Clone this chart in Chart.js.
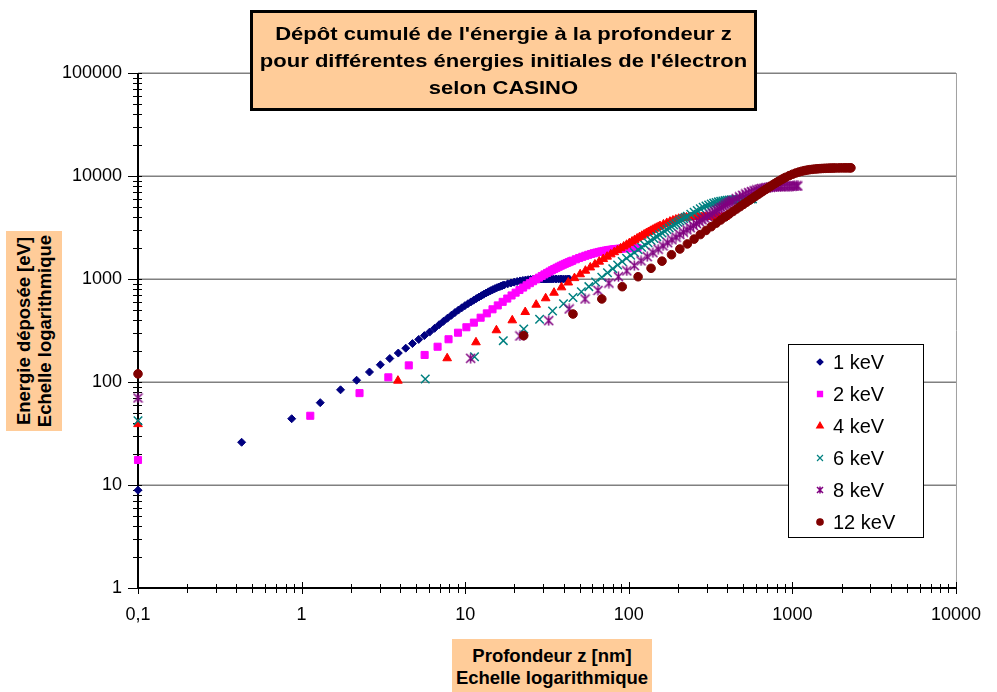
<!DOCTYPE html>
<html>
<head>
<meta charset="utf-8">
<script src="https://cdn.jsdelivr.net/npm/chart.js@4/dist/chart.umd.min.js"></script>
<style>
  html, body { margin: 0; padding: 0; background: #fff; }
  #wrap { position: relative; width: 997px; height: 692px; overflow: hidden;
          font-family: Arial, "Liberation Sans", sans-serif; }
  #chart { position: absolute; left: 0; top: 0; }
  .peach { position: absolute; background: #FFCC99; color: #000; font-weight: bold; }
  #title { left: 250px; top: 10px; width: 507px; height: 101px; border: 3px solid #000;
           box-sizing: border-box; font-size: 18.5px; }
  #title div { position: absolute; left: 0; right: 0; text-align: center; line-height: 27px;
               white-space: nowrap; transform: scaleX(1.19); }
  #ylab { left: 6px; top: 231px; width: 56px; height: 200px; }
  #ylab div { position: absolute; left: -72px; top: 72px; width: 200px; height: 56px;
              box-sizing: border-box; padding-top: 6.5px; transform: rotate(-90deg);
              text-align: center; font-size: 18.5px; line-height: 21.5px; white-space: nowrap; }
  #xlab { left: 452px; top: 639px; width: 200px; height: 53px; box-sizing: border-box;
          padding-top: 6px; text-align: center; font-size: 18.5px; line-height: 22px; white-space: nowrap; }
</style>
</head>
<body>
<div id="wrap">
  <canvas id="chart" width="997" height="692"></canvas>
  <div id="title" class="peach">
    <div style="top:6.5px">Dépôt cumulé de l'énergie à la profondeur z</div>
    <div style="top:33.5px">pour différentes énergies initiales de l'électron</div>
    <div style="top:60.5px">selon CASINO</div>
  </div>
  <div id="ylab" class="peach"><div>Energie déposée [eV]<br>Echelle logarithmique</div></div>
  <div id="xlab" class="peach">Profondeur z [nm]<br>Echelle logarithmique</div>
</div>
<script>
// --- Data (depth in nm, deposited energy in eV) ---
// depth 0 is drawn on the 0,1 axis line
const depth1keV = [0.1, 0.43, 0.87, 1.30, 1.73, 2.17, 2.60, 3.03, 3.46, 3.90, 4.33, 4.76, 5.20, 5.63, 6.06, 6.50, 6.93, 7.36, 7.79, 8.23, 8.66, 9.09, 9.53, 9.96, 10.39, 10.83, 11.26, 11.69, 12.12, 12.56, 12.99, 13.42, 13.86, 14.29, 14.72, 15.16, 15.59, 16.02, 16.45, 16.89, 17.32,
  18.19, 19.05, 19.92, 20.78, 21.65, 22.52, 23.38, 24.25, 25.11, 25.98, 26.85, 27.71, 28.58, 29.44, 30.31, 31.18, 32.04, 32.91, 33.77, 34.64,
  35.94, 37.24, 38.54, 39.84, 41.14, 42.43, 43.30];
const energy1keV = [8.9, 26, 44, 63, 84, 104, 125, 147, 169, 191, 213, 236, 259, 282, 305, 332, 360, 388, 416, 444, 472, 499, 525, 551, 575, 599, 622, 645, 667, 689, 710, 731, 751, 770, 788, 805, 821, 836, 850, 863, 875,
  897, 916, 932, 946, 958, 968, 977, 984, 990, 994, 997, 999, 1000, 1000, 1000, 1000, 1000, 1000, 1000, 1000,
  1000, 1000, 1000, 1000, 1000, 1000, 1000];

const depth2keV = [0.1, 1.13, 2.26, 3.39, 4.52, 5.65, 6.78, 7.91, 9.04, 10.17, 11.30, 12.43, 13.56, 14.69, 15.82, 16.95, 18.08, 19.21, 20.34, 21.47, 22.60, 23.73, 24.86, 25.99, 27.12, 28.25, 29.38, 30.51, 31.64, 32.77, 33.90, 35.03, 36.16, 37.29, 38.42, 39.55, 40.68, 41.81, 42.94, 44.07, 45.20,
  47.46, 49.72, 51.98, 54.24, 56.50, 58.76, 61.02, 63.28, 65.54, 67.80, 70.06, 72.32, 74.58, 76.84, 79.10, 81.36, 83.62, 85.88, 88.14, 90.40,
  93.79, 97.18, 100.57, 103.96, 107.35, 110.74, 113.00];
const energy2keV = [17.5, 47, 78, 111, 145, 183, 220, 260, 301, 340, 377, 421, 464, 508, 554, 600, 646, 692, 737, 782, 826, 869, 911, 952, 992, 1031, 1070, 1108, 1145, 1181, 1216, 1250, 1283, 1315, 1346, 1375, 1403, 1430, 1456, 1481, 1506,
  1554, 1599, 1641, 1680, 1716, 1749, 1779, 1806, 1830, 1852, 1872, 1890, 1906, 1920, 1933, 1944, 1954, 1962, 1969, 1975,
  1982, 1988, 1993, 1996, 1998, 2000, 2000];

const depth4keV = [0.1, 3.88, 7.76, 11.64, 15.52, 19.40, 23.28, 27.16, 31.04, 34.92, 38.80, 42.68, 46.56, 50.44, 54.32, 58.20, 62.08, 65.96, 69.84, 73.72, 77.60, 81.48, 85.36, 89.24, 93.12, 97.00, 100.88, 104.76, 108.64, 112.52, 116.40, 120.28, 124.16, 128.04, 131.92, 135.80, 139.68, 143.56, 147.44, 151.32, 155.20,
  162.96, 170.72, 178.48, 186.24, 194.00, 201.76, 209.52, 217.28, 225.04, 232.80, 240.56, 248.32, 256.08, 263.84, 271.60, 279.36, 287.12, 294.88, 302.64, 310.40,
  322.04, 333.68, 345.32, 356.96, 368.60, 380.24, 388.00];
const energy4keV = [39, 103, 170, 243, 318, 397, 478, 563, 650, 736, 830, 925, 1020, 1112, 1204, 1295, 1385, 1474, 1562, 1649, 1735, 1820, 1904, 1987, 2069, 2150, 2232, 2313, 2394, 2474, 2553, 2630, 2708, 2785, 2860, 2933, 3004, 3073, 3140, 3205, 3268,
  3390, 3503, 3607, 3700, 3780, 3846, 3897, 3934, 3960, 3977, 3988, 3995, 3999, 4000, 4000, 4000, 4000, 4000, 4000, 4000,
  4000, 4000, 4000, 4000, 4000, 4000, 4000];

const depth6keV = [0.1, 5.7, 11.4, 17.1, 22.8, 28.5, 34.2, 39.9, 45.6, 51.3, 57.0, 62.7, 68.4, 74.1, 79.8, 85.5, 91.2, 96.9, 102.6, 108.3, 114.0, 119.7, 125.4, 131.1, 136.8, 142.5, 148.2, 153.9, 159.6, 165.3, 171.0, 176.7, 182.4, 188.1, 193.8, 199.5, 205.2, 210.9, 216.6, 222.3, 228.0,
  239.4, 250.8, 262.2, 273.6, 285.0, 296.4, 307.8, 319.2, 330.6, 342.0, 353.4, 364.8, 376.2, 387.6, 399.0, 410.4, 421.8, 433.2, 444.6, 456.0,
  473.1, 490.2, 507.3, 524.4, 541.5, 558.6, 570.0];
const energy6keV = [42, 107, 176, 252, 327, 406, 489, 575, 662, 752, 843, 936, 1040, 1150, 1260, 1370, 1480, 1590, 1700, 1810, 1920, 2030, 2140, 2250, 2360, 2470, 2580, 2690, 2800, 2910, 3020, 3128, 3236, 3343, 3449, 3554, 3658, 3761, 3863, 3964, 4064,
  4260, 4450, 4632, 4804, 4964, 5110, 5240, 5354, 5452, 5536, 5608, 5670, 5722, 5766, 5804, 5836, 5863, 5886, 5905, 5921,
  5941, 5957, 5970, 5980, 5988, 5994, 5997];

const depth8keV = [0.1, 10.8, 21.6, 32.4, 43.2, 54.0, 64.8, 75.6, 86.4, 97.2, 108.0, 118.8, 129.6, 140.4, 151.2, 162.0, 172.8, 183.6, 194.4, 205.2, 216.0, 226.8, 237.6, 248.4, 259.2, 270.0, 280.8, 291.6, 302.4, 313.2, 324.0, 334.8, 345.6, 356.4, 367.2, 378.0, 388.8, 399.6, 410.4, 421.2, 432.0,
  453.6, 475.2, 496.8, 518.4, 540.0, 561.6, 583.2, 604.8, 626.4, 648.0, 669.6, 691.2, 712.8, 734.4, 756.0, 777.6, 799.2, 820.8, 842.4, 864.0,
  896.4, 928.8, 961.2, 993.6, 1026.0, 1058.4, 1080.0];
const energy8keV = [70, 170, 280, 394, 512, 640, 775, 912, 1052, 1200, 1350, 1500, 1648, 1801, 1950, 2098, 2251, 2402, 2549, 2701, 2852, 3000, 3148, 3302, 3451, 3598, 3752, 3901, 4048, 4203, 4351, 4498, 4650, 4797, 4945, 5090, 5233, 5374, 5512, 5647, 5779,
  6033, 6272, 6494, 6697, 6880, 7042, 7182, 7320, 7440, 7540, 7620, 7690, 7750, 7800, 7840, 7870, 7895, 7915, 7932, 7946,
  7962, 7975, 7985, 7992, 7997, 8000, 8000];

const depth12keV = [0.1, 22.8, 45.6, 68.4, 91.2, 114.0, 136.8, 159.6, 182.4, 205.2, 228.0, 250.8, 273.6, 296.4, 319.2, 342.0, 364.8, 387.6, 410.4, 433.2, 456.0, 478.8, 501.6, 524.4, 547.2, 570.0, 592.8, 615.6, 638.4, 661.2, 684.0, 706.8, 729.6, 752.4, 775.2, 798.0, 820.8, 843.6, 866.4, 889.2, 912.0,
  957.6, 1003.2, 1048.8, 1094.4, 1140.0, 1185.6, 1231.2, 1276.8, 1322.4, 1368.0, 1413.6, 1459.2, 1504.8, 1550.4, 1596.0, 1641.6, 1687.2, 1732.8, 1778.4, 1824.0,
  1892.4, 1960.8, 2029.2, 2097.6, 2166.0, 2234.4, 2280.0];
const energy12keV = [120, 282, 457, 640, 842, 1052, 1270, 1490, 1720, 1955, 2190, 2440, 2700, 2960, 3220, 3480, 3740, 4000, 4260, 4520, 4780, 5040, 5300, 5560, 5820, 6080, 6340, 6600, 6860, 7120, 7378, 7634, 7888, 8138, 8384, 8625, 8860, 9088, 9308, 9519, 9720,
  10090, 10415, 10695, 10930, 11125, 11285, 11415, 11520, 11605, 11675, 11732, 11780, 11820, 11853, 11880, 11903, 11922, 11938, 11951, 11962,
  11975, 11985, 11992, 11997, 12000, 12000, 12000];

const seriesLabels = ['1 keV', '2 keV', '4 keV', '6 keV', '8 keV', '12 keV'];
const xDecades = [0.1, 1, 10, 100, 1000, 10000];
const yDecades = [1, 10, 100, 1000, 10000, 100000];

// --- Styles ---
const FONT = 'Arial, "Liberation Sans", sans-serif';
Chart.defaults.font.family = FONT;
Chart.defaults.color = '#000';

// Excel-like "star" marker: an X crossed by a vertical bar
const makeStar = (size, color) => {
  const c = document.createElement('canvas');
  c.width = size; c.height = size;
  const g = c.getContext('2d');
  const m = size / 2, r = size / 2 - 1;
  g.strokeStyle = color; g.lineWidth = 1.5;
  g.beginPath();
  g.moveTo(m - r, m - r); g.lineTo(m + r, m + r);
  g.moveTo(m + r, m - r); g.lineTo(m - r, m + r);
  g.moveTo(m, m - r - 0.5); g.lineTo(m, m + r + 0.5);
  g.stroke();
  return c;
};

const styles = [
  { color: '#000080', pointStyle: 'rectRot', radius: 4, bw: 1 },
  { color: '#FF00FF', pointStyle: 'rect', radius: 5, bw: 1 },
  { color: '#FF0000', pointStyle: 'triangle', radius: 5, bw: 1 },
  { color: '#008080', pointStyle: 'crossRot', radius: 6, bw: 1.5 },
  { color: '#800080', pointStyle: makeStar(11, '#800080'), radius: 5.5, bw: 1 },
  { color: '#800000', pointStyle: 'circle', radius: 4.3, bw: 1 }
];
const legendMarkers = [
  { pointStyle: 'rectRot', radius: 3 },
  { pointStyle: 'rect', radius: 3.6 },
  { pointStyle: 'triangle', radius: 3.8 },
  { pointStyle: 'crossRot', radius: 4.2 },
  { pointStyle: makeStar(8, '#800080'), radius: 4 },
  { pointStyle: 'circle', radius: 3.2 }
];

const depths = [depth1keV, depth2keV, depth4keV, depth6keV, depth8keV, depth12keV];
const energies = [energy1keV, energy2keV, energy4keV, energy6keV, energy8keV, energy12keV];

const datasets = seriesLabels.map((label, i) => ({
  label,
  data: depths[i].map((x, j) => ({ x, y: energies[i][j] })),
  pointStyle: styles[i].pointStyle,
  pointRadius: styles[i].radius,
  pointBorderWidth: styles[i].bw,
  backgroundColor: styles[i].color,
  borderColor: styles[i].color,
  showLine: false,
  clip: false,
  order: seriesLabels.length - i   // later series on top
}));

const isDecade = (v) => {
  const l = Math.log10(v);
  return Math.abs(l - Math.round(l)) < 1e-6;
};
const fmt = (v) => {
  if (!isDecade(v)) return '';
  return v < 1 ? String(v).replace('.', ',') : String(Math.round(v));
};

// --- Axis lines, crossing ticks, major gridlines ---
const axesDecor = {
  id: 'axesDecor',
  beforeDatasetsDraw(chart) {
    const { ctx, chartArea: a, scales: { x, y } } = chart;
    ctx.save();
    ctx.strokeStyle = '#808080';
    ctx.lineWidth = 1.5;
    yDecades.forEach(v => {
      if (v === 1) return;
      const py = Math.round(y.getPixelForValue(v)) + 0.25;
      ctx.beginPath(); ctx.moveTo(a.left, py); ctx.lineTo(a.right, py); ctx.stroke();
    });
    ctx.strokeStyle = '#a0a0a0';
    ctx.lineWidth = 1;
    ctx.beginPath(); ctx.moveTo(a.right + 0.5, a.top); ctx.lineTo(a.right + 0.5, a.bottom); ctx.stroke();

    ctx.strokeStyle = '#000';
    ctx.lineWidth = 1;
    yDecades.forEach((d, k) => {
      for (let m = 1; m <= 9; m++) {
        if (k === yDecades.length - 1 && m > 1) break;
        const py = Math.round(y.getPixelForValue(d * m)) + 0.5;
        const major = m === 1;
        ctx.beginPath();
        ctx.moveTo(a.left - (major ? 10 : 5), py);
        ctx.lineTo(a.left + 4, py);
        ctx.stroke();
      }
    });
    xDecades.forEach((d, k) => {
      for (let m = 1; m <= 9; m++) {
        if (k === xDecades.length - 1 && m > 1) break;
        const px = Math.round(x.getPixelForValue(d * m)) + 0.5;
        const major = m === 1;
        ctx.beginPath();
        ctx.moveTo(px, a.bottom - (major ? 6 : 4));
        ctx.lineTo(px, a.bottom + (major ? 6 : 5));
        ctx.stroke();
      }
    });

    ctx.lineWidth = 2;
    ctx.beginPath();
    ctx.moveTo(a.left, a.top); ctx.lineTo(a.left, a.bottom + 1);
    ctx.moveTo(a.left - 1, a.bottom); ctx.lineTo(a.right, a.bottom);
    ctx.stroke();
    ctx.restore();
  }
};

// --- Legend box inside the plot ---
const legendBox = {
  id: 'legendBox',
  afterDraw(chart) {
    const { ctx } = chart;
    ctx.save();
    ctx.fillStyle = '#fff';
    ctx.fillRect(788.5, 344.5, 135, 193);
    ctx.strokeStyle = '#000';
    ctx.lineWidth = 1;
    ctx.strokeRect(788.5, 344.5, 135, 193);
    ctx.font = '20px ' + FONT;
    ctx.textBaseline = 'middle';
    seriesLabels.forEach((label, i) => {
      const cy = 362 + i * 32;
      ctx.fillStyle = styles[i].color;
      ctx.strokeStyle = styles[i].color;
      ctx.lineWidth = 1.2;
      if (Chart.helpers && Chart.helpers.drawPoint) {
        Chart.helpers.drawPoint(ctx, { pointStyle: legendMarkers[i].pointStyle, radius: legendMarkers[i].radius, rotation: 0, borderWidth: 1 }, 820, cy);
      } else {
        ctx.beginPath(); ctx.arc(820, cy, 3, 0, Math.PI * 2); ctx.fill();
      }
      ctx.fillStyle = '#000';
      ctx.fillText(label, 833, cy + 1);
    });
    ctx.restore();
  }
};

new Chart(document.getElementById('chart'), {
  type: 'scatter',
  data: { datasets },
  options: {
    responsive: false,
    animation: false,
    layout: { padding: { top: 73, right: 29, left: 0, bottom: 0 } },
    plugins: { legend: { display: false }, tooltip: { enabled: false } },
    scales: {
      x: {
        type: 'logarithmic', min: 0.1, max: 10000,
        grid: { display: false, drawTicks: false },
        border: { display: false },
        ticks: { autoSkip: false, maxRotation: 0, padding: 16, color: '#000', font: { size: 18 }, callback: fmt },
        afterFit(scale) { scale.height = 104; }
      },
      y: {
        type: 'logarithmic', min: 1, max: 100000,
        grid: { display: false, drawTicks: false },
        border: { display: false },
        ticks: { autoSkip: false, padding: 16, color: '#000', font: { size: 18 }, callback: fmt },
        afterFit(scale) { scale.width = 138; }
      }
    }
  },
  plugins: [axesDecor, legendBox]
});
</script>
</body>
</html>
